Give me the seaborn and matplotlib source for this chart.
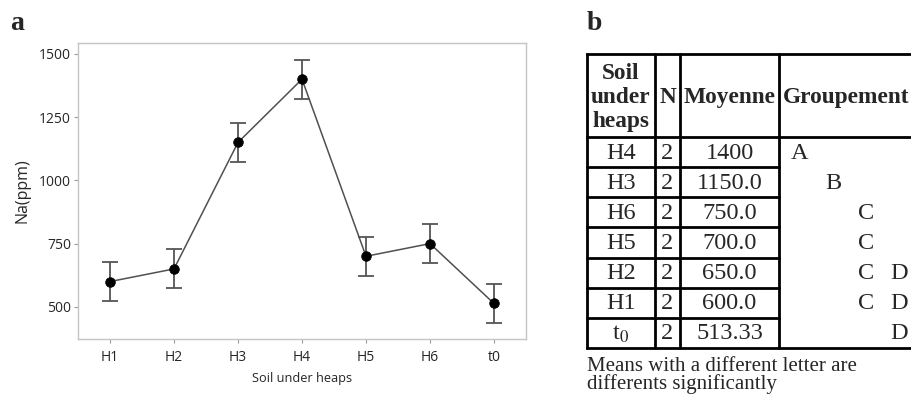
import matplotlib
matplotlib.use("Agg")
import matplotlib.pyplot as plt
import seaborn as sns

# ---- data ----
sites = ["H1", "H2", "H3", "H4", "H5", "H6", "t0"]
na_mean = [600.0, 650.0, 1150.0, 1400.0, 700.0, 750.0, 513.33]
na_err = [77, 77, 77, 77, 77, 77, 77]

# Tukey grouping table (rows sorted by mean)
table_sites = ["H4", "H3", "H6", "H5", "H2", "H1", "t0"]
table_n = [2, 2, 2, 2, 2, 2, 2]
table_fmt = ["{:.0f}", "{:.1f}", "{:.1f}", "{:.1f}", "{:.1f}", "{:.1f}", "{:.2f}"]
table_groups = [["A"], ["B"], ["C"], ["C"], ["C", "D"], ["C", "D"], ["D"]]
group_letters = ["A", "B", "C", "D"]
y_ticks = [500, 750, 1000, 1250, 1500]

sns.set_theme(style="white")
plt.rcParams["font.family"] = ["Open Sans", "DejaVu Sans"]
plt.rcParams["mathtext.fontset"] = "stix"

W, H = 912, 395
fig = plt.figure(figsize=(W / 100, H / 100), dpi=100)
fig.patch.set_facecolor("white")


def px_axes(x0, y0, x1, y1):
    return fig.add_axes([x0 / W, 1 - y1 / H, (x1 - x0) / W, (y1 - y0) / H])


# ---- panel a: means with error bars ----
ax = px_axes(78, 43, 526, 339)
ax.errorbar(sites, na_mean, yerr=na_err, fmt="none", ecolor="#555555",
            elinewidth=1.3, capsize=5.5, capthick=1.3, zorder=2)
sns.lineplot(x=sites, y=na_mean, sort=False, color="#505050", linewidth=1.1,
             ax=ax, zorder=3)
sns.scatterplot(x=sites, y=na_mean, color="black", edgecolor="black",
                s=48, ax=ax, zorder=4)
ax.set_xlim(-0.5, len(sites) - 0.5)
ax.set_ylim(373, 1543)
ax.set_yticks(y_ticks)
ax.set_yticklabels([str(v) for v in y_ticks])
for s in ax.spines.values():
    s.set_color("#c4c4c4")
    s.set_linewidth(1.0)
ax.tick_params(axis="both", which="major", length=3, width=0.8,
               color="#9a9a9a", labelcolor="#262626", labelsize=10,
               left=True, bottom=True, pad=2)
ax.tick_params(axis="x", pad=5)
ax.set_xlabel("Soil under heaps", fontsize=9.2, color="#262626", labelpad=5)
ax.set_ylabel("Na(ppm)", fontsize=11.5, color="#262626", labelpad=6)
ax.grid(False)

# ---- overlay for panel letters and table ----
ov = px_axes(0, 0, W, H)
ov.set_xlim(0, W)
ov.set_ylim(H, 0)
ov.axis("off")
ov.patch.set_alpha(0)

serif = ["Liberation Serif", "DejaVu Serif"]
ov.text(10, 24, "a", fontsize=20, fontweight="bold", family=serif,
        ha="left", va="center")
ov.text(587, 24, "b", fontsize=20, fontweight="bold", family=serif,
        ha="left", va="center")

# table geometry
tx = [587, 655, 680, 779, 930]
t_top, t_head = 54, 137
t_bot = 348
n_rows = len(table_sites)
row_h = (t_bot - t_head) / n_rows
lw = 2.0

# outer horizontal lines across the full width
for yy in (t_top, t_head, t_bot):
    ov.plot([tx[0], tx[-1]], [yy, yy], color="black", lw=lw, clip_on=False,
            solid_capstyle="projecting")
# row separators (first three columns only)
for i in range(1, n_rows):
    yy = t_head + i * row_h
    ov.plot([tx[0], tx[3]], [yy, yy], color="black", lw=lw)
# vertical lines
for xx in tx[:4]:
    ov.plot([xx, xx], [t_top, t_bot], color="black", lw=lw)

hfs = 16.8
fs = 17.5
head_y = (t_top + t_head) / 2 + 2
ov.text((tx[0] + tx[1]) / 2, head_y, "Soil\nunder\nheaps", family=serif,
        fontsize=hfs, fontweight="bold", ha="center", va="center",
        linespacing=1.2)
ov.text((tx[1] + tx[2]) / 2, head_y, "N", family=serif, fontsize=hfs,
        fontweight="bold", ha="center", va="center")
ov.text((tx[2] + tx[3]) / 2, head_y, "Moyenne", family=serif, fontsize=hfs,
        fontweight="bold", ha="center", va="center")
ov.text(tx[3] + 4, head_y, "Groupement", family=serif, fontsize=hfs,
        fontweight="bold", ha="left", va="center")

mean_of = dict(zip(sites, na_mean))
for i, (site, n, fmt, groups) in enumerate(zip(table_sites, table_n,
                                               table_fmt, table_groups)):
    yc = t_head + (i + 0.5) * row_h + 1
    label = "t$_{\\mathrm{0}}$" if site == "t0" else site
    ov.text((tx[0] + tx[1]) / 2, yc, label, family=serif, fontsize=fs,
            ha="center", va="center")
    ov.text((tx[1] + tx[2]) / 2, yc, str(n), family=serif, fontsize=fs,
            ha="center", va="center")
    ov.text((tx[2] + tx[3]) / 2, yc, fmt.format(mean_of[site]), family=serif,
            fontsize=fs, ha="center", va="center")
    for g in groups:
        gx = 800 + 33 * group_letters.index(g)
        ov.text(gx, yc, g, family=serif, fontsize=fs, ha="center",
                va="center")

ov.text(587, 371, "Means with a different letter are", family=serif,
        fontsize=15, ha="left", va="baseline")
ov.text(587, 389, "differents significantly", family=serif,
        fontsize=15, ha="left", va="baseline")

fig.savefig("out.png", dpi=100, facecolor="white")
